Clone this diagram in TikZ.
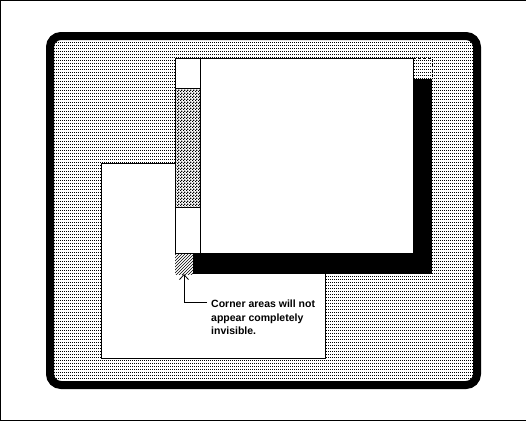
\documentclass[tikz,border=0pt]{standalone}
\usepackage{fontspec}
\setmainfont{Liberation Sans}
\usetikzlibrary{arrows.meta,patterns,positioning}

% fine dot screen and checker fill of the old bitmap look
\pgfdeclarepatternformonly{screendots}{\pgfqpoint{0pt}{0pt}}{\pgfqpoint{1pt}{1pt}}{\pgfqpoint{2pt}{3pt}}{%
  \pgfpathrectangle{\pgfqpoint{0pt}{0pt}}{\pgfqpoint{1pt}{1pt}}\pgfusepath{fill}}
\pgfdeclarepatternformonly{checker}{\pgfqpoint{0pt}{0pt}}{\pgfqpoint{3pt}{3pt}}{\pgfqpoint{3pt}{3pt}}{%
  \pgfpathrectangle{\pgfqpoint{0pt}{0pt}}{\pgfqpoint{1.5pt}{1.5pt}}%
  \pgfpathrectangle{\pgfqpoint{1.5pt}{1.5pt}}{\pgfqpoint{1.5pt}{1.5pt}}\pgfusepath{fill}}

\begin{document}
\begin{tikzpicture}[x=1pt, y=-1pt,
  screen/.style={line width=8pt, rounded corners=11pt, pattern=screendots},
  win/.style={draw=black, line width=1pt, fill=white},
  shadow/.style={fill=black},
  bar/.style={draw=black, line width=1pt, pattern=checker},
  corner/.style={pattern=north east lines, minimum width=18pt, minimum height=21pt,
    inner sep=0pt, outer sep=0pt},
  ghost/.style={draw=black, line width=1pt, dash pattern=on 3pt off 2pt},
  leader/.style={-{Straight Barb[length=5pt,width=9pt]}, line width=0.8pt},
  note/.style={font=\fontsize{10.5}{13.5}\selectfont\bfseries, align=left,
    inner sep=0pt, anchor=north west}
]
  \useasboundingbox (0,0) rectangle (526,421);
  \draw[line width=1pt] (526,0.5) -- (0.5,0.5) -- (0.5,420.5) -- (526,420.5);

  % monitor screen
  \draw[screen] (50,36) rectangle (477,385);

  % window behind
  \draw[win] (101,163) rectangle (325,358);

  % drop shadow of the front window
  \fill[shadow] (193,79) rectangle (432,274);
  \node[corner] (corner) at (184,263.5) {};

  % front window with its side bar
  \draw[win] (175,58) rectangle (413,253);
  \draw[line width=1pt] (200,58) -- (200,253);
  \draw[bar] (175,88) rectangle (200,207);
  \draw[ghost] (413,58) -- (432,58) -- (432,79);

  % label
  \node[note] (note) at (211,300) {Corner areas will not\\appear completely\\invisible.};
  \coordinate (elbow) at (207,302);
  \draw[leader] (elbow) -| (corner.south);
\end{tikzpicture}
\end{document}
